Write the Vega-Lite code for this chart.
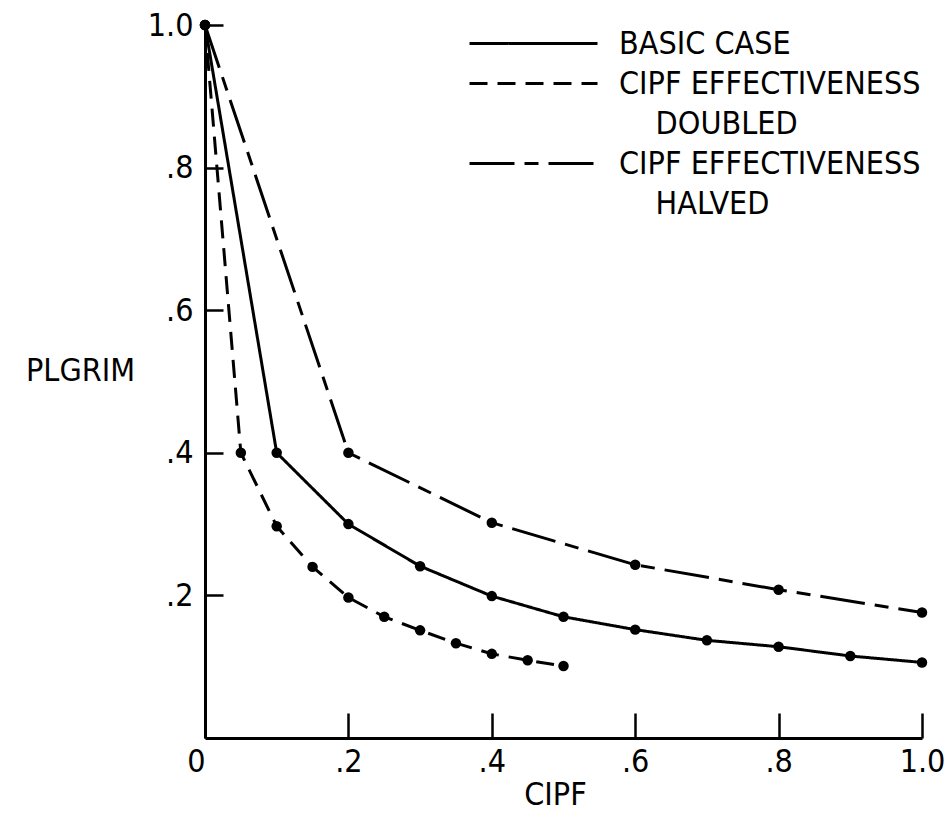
{
  "$schema": "https://vega.github.io/schema/vega-lite/v6.json",
  "width": 717,
  "height": 713,
  "autosize": {"type": "none"},
  "padding": {"left": 205, "top": 25, "right": 22, "bottom": 75},
  "background": "white",
  "config": {
    "view": {"stroke": null},
    "font": "DejaVu Sans Condensed",
    "axis": {
      "grid": false,
      "domainColor": "black",
      "domainWidth": 3,
      "tickColor": "black",
      "tickWidth": 2.5,
      "labelColor": "black",
      "titleColor": "black",
      "labelFont": "DejaVu Sans Condensed",
      "titleFont": "DejaVu Sans Condensed",
      "labelFontSize": 32,
      "titleFontSize": 32,
      "titleFontWeight": "normal"
    }
  },
  "data": {
    "values": [
      {"series": "BASIC CASE", "cipf": 0.0, "plgrim": 1.0},
      {"series": "BASIC CASE", "cipf": 0.1, "plgrim": 0.4},
      {"series": "BASIC CASE", "cipf": 0.2, "plgrim": 0.3},
      {"series": "BASIC CASE", "cipf": 0.3, "plgrim": 0.241},
      {"series": "BASIC CASE", "cipf": 0.4, "plgrim": 0.199},
      {"series": "BASIC CASE", "cipf": 0.5, "plgrim": 0.17},
      {"series": "BASIC CASE", "cipf": 0.6, "plgrim": 0.152},
      {"series": "BASIC CASE", "cipf": 0.7, "plgrim": 0.137},
      {"series": "BASIC CASE", "cipf": 0.8, "plgrim": 0.128},
      {"series": "BASIC CASE", "cipf": 0.9, "plgrim": 0.115},
      {"series": "BASIC CASE", "cipf": 1.0, "plgrim": 0.106},
      {"series": "CIPF EFFECTIVENESS DOUBLED", "cipf": 0.0, "plgrim": 1.0},
      {"series": "CIPF EFFECTIVENESS DOUBLED", "cipf": 0.05, "plgrim": 0.4},
      {"series": "CIPF EFFECTIVENESS DOUBLED", "cipf": 0.1, "plgrim": 0.297},
      {"series": "CIPF EFFECTIVENESS DOUBLED", "cipf": 0.15, "plgrim": 0.24},
      {"series": "CIPF EFFECTIVENESS DOUBLED", "cipf": 0.2, "plgrim": 0.197},
      {"series": "CIPF EFFECTIVENESS DOUBLED", "cipf": 0.25, "plgrim": 0.17},
      {"series": "CIPF EFFECTIVENESS DOUBLED", "cipf": 0.3, "plgrim": 0.151},
      {"series": "CIPF EFFECTIVENESS DOUBLED", "cipf": 0.35, "plgrim": 0.133},
      {"series": "CIPF EFFECTIVENESS DOUBLED", "cipf": 0.4, "plgrim": 0.118},
      {"series": "CIPF EFFECTIVENESS DOUBLED", "cipf": 0.45, "plgrim": 0.109},
      {"series": "CIPF EFFECTIVENESS DOUBLED", "cipf": 0.5, "plgrim": 0.101},
      {"series": "CIPF EFFECTIVENESS HALVED", "cipf": 0.0, "plgrim": 1.0},
      {"series": "CIPF EFFECTIVENESS HALVED", "cipf": 0.2, "plgrim": 0.4},
      {"series": "CIPF EFFECTIVENESS HALVED", "cipf": 0.4, "plgrim": 0.302},
      {"series": "CIPF EFFECTIVENESS HALVED", "cipf": 0.6, "plgrim": 0.243},
      {"series": "CIPF EFFECTIVENESS HALVED", "cipf": 0.8, "plgrim": 0.208},
      {"series": "CIPF EFFECTIVENESS HALVED", "cipf": 1.0, "plgrim": 0.176}
    ]
  },
  "encoding": {
    "x": {
      "field": "cipf",
      "type": "quantitative",
      "scale": {"domain": [0, 1], "nice": false, "zero": true},
      "axis": {
        "title": "CIPF",
        "titleX": 350,
        "values": [0, 0.2, 0.4, 0.6, 0.8, 1.0],
        "tickSize": -25,
        "labelPadding": 33,
        "titlePadding": 2,
        "labelFlush": false,
        "labelOverlap": false,
        "labelAlign": {"condition": {"test": "datum.value == 0", "value": "right"}, "value": "center"},
        "labelExpr": "datum.value == 0 ? '0' : (datum.value == 1 ? '1.0' : replace(format(datum.value, '.1f'), '0.', '.'))"
      }
    },
    "y": {
      "field": "plgrim",
      "type": "quantitative",
      "scale": {"domain": [0, 1], "nice": false},
      "axis": {
        "title": "PLGRIM",
        "titleAngle": 0,
        "titleAlign": "center",
        "titleBaseline": "middle",
        "titleX": -125,
        "titleY": 345,
        "values": [0.2, 0.4, 0.6, 0.8, 1.0],
        "tickSize": -18,
        "labelPadding": 30,
        "labelFlush": false,
        "labelOverlap": false,
        "labelExpr": "datum.value == 1 ? '1.0' : replace(format(datum.value, '.1f'), '0.', '.')"
      }
    }
  },
  "layer": [
    {
      "mark": {"type": "line", "color": "black", "strokeWidth": 3, "strokeCap": "butt"},
      "encoding": {
        "detail": {"field": "series"},
        "strokeDash": {
          "field": "series",
          "type": "nominal",
          "scale": {
            "domain": ["BASIC CASE", "CIPF EFFECTIVENESS DOUBLED", "DOUBLED", "CIPF EFFECTIVENESS HALVED", "HALVED"],
            "range": [[1, 0], [18, 10], [0, 1000], [45, 10, 14, 10], [0, 1000]]
          },
          "legend": {
            "orient": "none",
            "legendX": 311,
            "legendY": 1,
            "title": null,
            "padding": 0,
            "symbolType": "M-4,0H4",
            "symbolSize": 1024,
            "symbolStrokeWidth": 3,
            "symbolStrokeColor": "black",
            "labelFont": "DejaVu Sans Condensed",
            "labelFontSize": 32,
            "labelColor": "black",
            "labelLimit": 0,
            "labelOffset": 68,
            "rowPadding": 6,
            "labelExpr": "datum.label == 'DOUBLED' || datum.label == 'HALVED' ? '\u200b\u00a0\u00a0\u00a0\u00a0' + datum.label : (datum.label == 'BASIC CASE' ? datum.label : 'CIPF EFFECTIVENESS')"
          }
        }
      }
    },
    {
      "mark": {"type": "point", "filled": true, "color": "black", "opacity": 1, "size": 110},
      "encoding": {"detail": {"field": "series"}}
    }
  ]
}
